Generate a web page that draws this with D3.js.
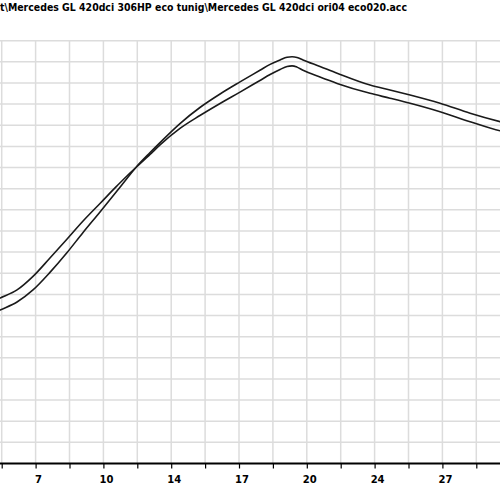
<!DOCTYPE html>
<html><head><meta charset="utf-8">
<script src="https://cdn.jsdelivr.net/npm/d3@7"></script>
<style>html,body{margin:0;padding:0;background:#fff;overflow:hidden}</style>
</head><body>
<svg id="c" width="500" height="500"></svg>
<script>
const titleText = "t\\Mercedes GL 420dci 306HP eco tunig\\Mercedes GL 420dci ori04 eco020.acc";
const xTickValues = [6.8, 10.2, 13.6, 17.0, 20.4, 23.8, 27.2];
const xTickLabels = ["7", "10", "14", "17", "20", "24", "27"];
const xGridStep = 1.7;
const yGridStep = 10;

const seriesX = [4.91, 5.02, 5.87, 6.67, 7.52, 8.38, 9.18, 10.03, 10.88, 11.38, 11.89, 12.54, 13.04, 14.04, 15.04, 16.05, 17.05, 18.05, 18.56, 19.06, 19.41, 19.66, 19.91, 20.21, 21.06, 21.92, 23.57, 24.57, 25.58, 27.08, 28.59, 30.09, 30.34];
const seriesA = [77.8, 78.3, 82.1, 88.5, 97.2, 106.2, 114.7, 123.0, 131.3, 136.0, 140.5, 146.2, 150.7, 158.5, 164.6, 170.3, 175.7, 181.2, 184.0, 186.4, 187.8, 188.1, 187.5, 186.0, 182.8, 179.8, 175.1, 172.8, 170.4, 166.4, 161.7, 157.4, 156.9];
const seriesB = [72.1, 72.6, 76.4, 82.1, 90.4, 99.8, 109.3, 119.0, 128.9, 134.8, 140.7, 147.1, 151.8, 160.8, 168.4, 174.8, 180.5, 186.0, 188.8, 190.9, 192.2, 192.4, 192.1, 190.9, 187.8, 184.6, 179.0, 176.7, 174.3, 170.4, 165.7, 161.7, 161.1];

const svg = d3.select("#c");
const x = d3.scaleLinear().domain([5.1, 30.6]).range([1.7, 510.2]);
const y = d3.scaleLinear().domain([0, 200]).range([463.5, 40.7]);

const xGrid = d3.range(0, 16).map(i => +(5.1 + i * xGridStep).toFixed(2));
const yGrid = d3.range(1, 21).map(i => i * yGridStep);

const grid = svg.append("g");
grid.selectAll("line.h").data(yGrid).enter().append("line")
  .attr("x1", 0).attr("x2", 500)
  .attr("y1", d => y(d)).attr("y2", d => y(d))
  .attr("stroke", "#dcdcdc").attr("stroke-width", 1.5);
grid.selectAll("line.v").data(xGrid).enter().append("line")
  .attr("x1", d => x(d)).attr("x2", d => x(d))
  .attr("y1", y(200)).attr("y2", y(0))
  .attr("stroke", "#dcdcdc").attr("stroke-width", 1.5);

// x axis
const axis = d3.axisBottom(x).tickValues(xGrid).tickSize(5).tickFormat("");
const ag = svg.append("g").attr("transform", `translate(0,${y(0)})`).call(axis);
ag.select(".domain").remove();
ag.selectAll(".tick line").attr("stroke", "#000").attr("stroke-width", 1.2);
svg.append("line").attr("x1", 0).attr("x2", 500).attr("y1", y(0)).attr("y2", y(0))
  .attr("stroke", "#000").attr("stroke-width", 2);

svg.append("g").selectAll("text").data(xTickValues).enter().append("text")
  .attr("x", d => x(d) + 3).attr("y", 483)
  .attr("text-anchor", "middle")
  .attr("font-family", "'DejaVu Sans', Verdana, sans-serif")
  .attr("font-weight", "bold").attr("font-size", 10)
  .attr("fill", "#000")
  .text((d, i) => xTickLabels[i]);

// title
svg.append("text").attr("x", 0).attr("y", 11)
  .attr("font-family", "'DejaVu Sans', Verdana, sans-serif")
  .attr("font-weight", "bold").attr("font-size", 10)
  .attr("textLength", 407).attr("lengthAdjust", "spacingAndGlyphs")
  .attr("fill", "#000")
  .text(titleText);

const line = d3.line().x(d => x(d[0])).y(d => y(d[1])).curve(d3.curveMonotoneX);
[seriesA, seriesB].forEach(vals => {
  const dd = seriesX.map((v, i) => [v, vals[i]]);
  svg.append("path").datum(dd).attr("d", line)
    .attr("fill", "none").attr("stroke", "#1a1a1a").attr("stroke-width", 1.6)
    .attr("stroke-linejoin", "round");
});
</script>
</body></html>
